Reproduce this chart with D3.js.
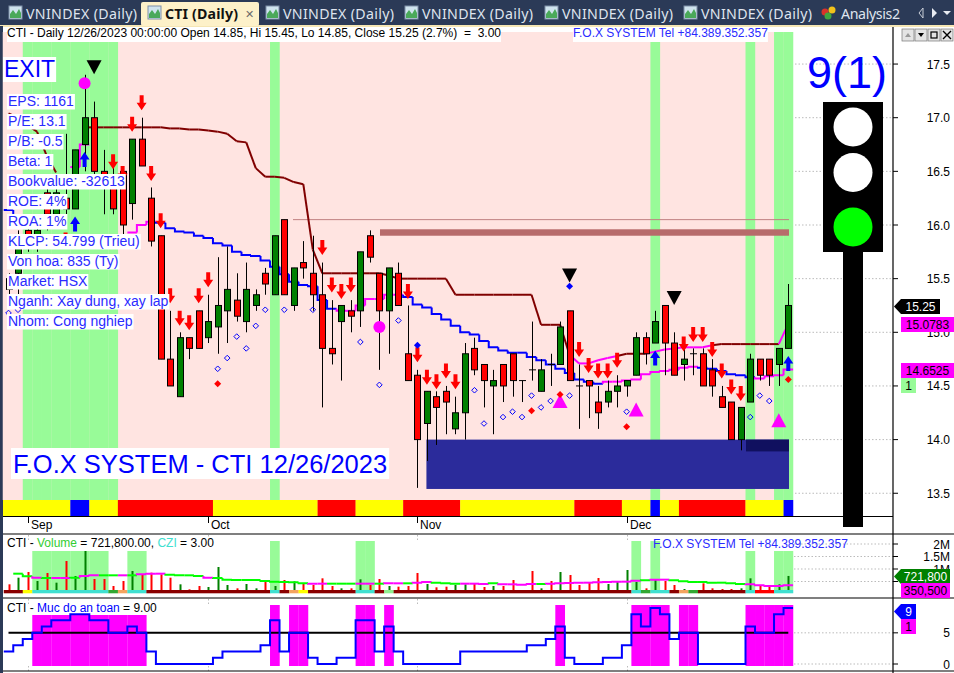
<!DOCTYPE html>
<html><head><meta charset="utf-8">
<style>html,body{margin:0;padding:0;background:#fff;overflow:hidden}svg{display:block;font-family:"Liberation Sans",Arial,sans-serif}text{white-space:pre}</style>
<script src="https://cdn.jsdelivr.net/npm/d3@7"></script>
</head><body><div id="c"></div>
<script>
// ---------- data: one entry per daily bar (83 bars) ----------
const opens=[15.5,15.55,15.95,15.8,16.3,16.1,16.25,16.15,16.75,17.0,16.5,16.4,16.5,16.2,16.8,16.25,15.9,14.75,14.4,14.95,15.2,14.95,15.05,15.2,15.3,15.1,15.25,15.55,15.35,16.05,15.25,15.65,15.55,15.35,14.85,15.1,15.2,15.2,15.9,15.55,15.2,15.55,14.8,14.6,14.15,14.4,14.45,14.1,14.25,14.85,14.7,14.5,14.7,14.8,14.55,14.65,14.45,14.7,14.7,15.2,14.5,14.55,14.35,14.35,14.45,14.5,14.6,14.95,14.9,15.25,14.9,14.7,14.8,14.8,14.65,14.4,14.35,14.0,14.35,14.75,14.75,14.7,14.85];
const highs=[15.55,15.95,16.0,16.05,16.45,16.4,16.85,16.7,17.4,17.15,16.7,16.6,16.5,16.8,17.0,16.35,15.9,15.2,15.0,14.95,15.2,15.35,15.7,15.8,15.55,15.65,15.4,15.6,15.9,16.05,15.6,15.85,15.9,15.65,15.3,15.25,15.3,15.75,15.95,15.55,15.6,15.65,15.25,14.65,14.45,14.45,14.5,14.4,14.9,14.95,14.7,14.65,14.7,14.8,14.55,15.1,14.75,14.8,15.1,15.2,14.7,14.55,14.5,14.55,14.6,14.55,15.0,15.0,15.2,15.25,15.0,14.85,14.85,14.85,14.75,14.5,14.35,14.3,14.8,14.75,14.75,14.85,15.45];
const lows=[15.3,15.25,15.75,15.75,15.95,16.0,16.1,16.15,16.5,16.35,16.1,16.1,15.9,16.05,16.55,15.8,14.75,14.5,14.4,14.75,14.85,14.9,14.8,14.9,15.1,15.0,15.2,15.35,15.35,15.35,15.2,15.5,15.2,14.3,14.7,14.55,15.0,15.05,15.65,14.65,14.8,15.25,14.55,13.55,13.8,13.95,14.05,14.05,14.0,14.6,14.3,14.05,14.35,14.4,14.35,14.55,14.45,14.5,14.7,14.55,14.1,14.2,14.1,14.3,14.3,14.4,14.6,14.7,14.9,14.6,14.6,14.55,14.6,14.5,14.4,14.3,14.0,13.9,14.35,14.55,14.5,14.5,14.85];
const closes=[15.4,15.9,15.8,15.95,16.1,16.3,16.15,16.7,17.0,16.5,16.35,16.15,16.0,16.8,16.55,15.85,14.75,14.5,14.95,14.85,14.85,15.1,15.25,15.4,15.15,15.4,15.35,15.45,15.9,15.35,15.6,15.6,15.35,14.85,14.8,15.25,15.15,15.75,15.7,15.2,15.6,15.25,14.55,14.0,14.45,14.3,14.35,14.25,14.8,14.65,14.55,14.55,14.5,14.55,14.55,14.65,14.65,14.7,15.05,14.55,14.5,14.5,14.25,14.45,14.5,14.55,14.95,14.8,15.1,14.9,14.6,14.75,14.8,14.5,14.5,14.3,14.0,14.3,14.75,14.6,14.6,14.85,15.25];
const volumes=[387,653,880,520,840,453,1320,720,1720,600,600,320,520,920,760,853,787,653,387,187,320,280,1080,360,227,400,227,493,320,560,507,427,360,627,320,227,227,587,360,600,320,293,320,840,400,267,293,360,387,400,280,320,320,560,160,920,227,520,880,760,360,480,640,400,520,960,480,227,587,520,360,200,120,427,227,200,200,227,627,360,280,387,721.8];
const volumeMA=[813,813,707,653,640,640,640,653,720,747,747,747,747,747,787,813,813,773,747,747,720,653,640,573,560,560,560,520,493,480,467,427,413,413,413,413,413,413,413,413,427,427,427,453,480,453,427,413,413,413,400,427,387,387,373,400,400,413,427,440,453,453,467,480,493,493,533,547,573,573,547,507,480,480,453,453,427,400,387,347,320,320,350.5];
const volumeMAMagenta=[3,5,6,8,9,12,14,15,16,21,32,33,37,38,40,41,43,44,48,49,50,52,53,54,55,57,58,59,60,61,62,63,64,65,66,68,69,78,79,80,81,82];
const safety=[2,3,4,5,6,7,7,8,8,7,7,5,5,6,5,2,0,0,0,0,0,0,1,2,2,2,2,3,7,2,5,5,1,0,0,1,1,7,7,2,6,2,0,0,0,0,0,0,2,2,2,2,2,2,2,3,3,4,6,1,0,0,0,1,1,3,8,6,9,8,4,5,5,0,0,0,0,0,6,5,5,8,9];
const upperStop=[17.04,17.0,16.93,16.87,16.65,16.49,null,null,16.91,16.91,16.91,16.91,16.91,16.91,16.91,16.91,16.91,16.90,16.90,16.89,16.89,16.88,16.87,16.85,16.78,16.77,16.53,16.45,16.45,16.44,16.40,16.38,15.77,15.55,15.55,15.55,15.55,15.55,15.55,15.55,15.53,15.50,15.50,15.50,15.50,15.50,15.50,15.35,15.35,15.35,15.35,15.35,15.35,15.35,15.35,15.35,15.07,15.07,15.07,14.79,14.71,14.71,14.74,14.76,14.78,14.80,14.80,14.80,14.82,14.84,14.85,14.86,14.86,14.86,14.88,14.89,14.89,14.89,14.89,14.89,14.89,14.89,15.0783];
const upperMagenta=[60,61,62,63,64,68,69,70,71,72,73,74,82];
const lowerStop=[16.14,16.05,null,null,null,null,null,16.54,16.75,null,null,null,null,15.93,16.0,16.03,16.02,15.97,15.94,15.93,15.90,15.88,15.83,15.81,15.75,15.72,15.71,15.67,15.61,15.54,15.47,15.44,15.43,15.30,15.22,15.20,15.20,15.25,15.31,15.31,15.35,15.35,15.33,15.26,15.23,15.17,15.12,15.06,15.00,14.98,14.92,14.86,14.83,14.81,14.81,14.77,14.74,14.70,14.66,14.62,14.56,14.54,14.52,14.54,14.54,14.55,14.56,14.61,14.63,14.64,14.65,14.67,14.68,14.67,14.66,14.64,14.61,14.60,14.58,14.57,14.59,14.60,14.6525];
const lowerBlue=[0,1,16,17,18,19,20,21,22,23,24,25,26,27,28,29,30,31,32,33,34,42,43,44,45,46,47,48,49,50,51,52,53,54,55,56,57,58,59,60,61,62,73,74,75,76,77,78];
const bandsMain=[2,3,4,5,6,7,8,9,10,11,28,68,78,81,82];
const bandsVolTall=[28,37,38,66,68];
const bandsVolShort=[3,4,5,6,7,8,9,10,13,14,78,81,82];
const stripRuns=[["#ffff00",0,6],["#0000ff",7,8],["#ffff00",9,11],["#ff0000",12,21],["#ffff00",22,32],["#ff0000",33,36],["#ffff00",37,41],["#ff0000",42,47],["#ffff00",48,59],["#ff0000",60,64],["#ffff00",65,67],["#0000ff",68,68],["#ffff00",69,70],["#ff0000",71,77],["#ffff00",78,81],["#0000ff",82,82]];
const volStripRuns=[["#8b0000",0,1],["#ffff00",2,2],["#40e0d0",3,10],["#32a832",11,11],["#f4a460",12,12],["#40e0d0",13,14],["#8b0000",15,27],["#40e0d0",28,28],["#8b0000",29,29],["#f4a460",30,30],["#ffff00",31,31],["#8b0000",32,36],["#40e0d0",37,38],["#8b0000",39,39],["#90ee90",40,40],["#8b0000",41,65],["#40e0d0",66,66],["#32a832",67,67],["#40e0d0",68,69],["#8b0000",70,70],["#f4a460",71,71],["#32a832",72,72],["#8b0000",73,77],["#40e0d0",78,78],["#ff0000",79,80],["#40e0d0",81,82]];
const sellArrows=[[6,15.86],[11,16.59],[12,16.48],[13,16.94],[14,17.14],[15,16.48],[16,16.04],[17,15.34],[18,15.13],[19,15.09],[20,15.34],[21,15.49],[33,15.79],[34,15.44],[35,15.38],[36,15.44],[42,15.38],[43,14.79],[44,14.58],[45,14.54],[46,14.64],[47,14.54],[60,14.84],[61,14.69],[62,14.64],[63,14.64],[64,14.74],[71,14.89],[72,14.98],[73,14.98],[74,14.84],[75,14.64],[76,14.49],[77,14.43]];
const buyArrows=[[7,16.01],[8,16.61],[68,14.76],[82,14.71]];
const blackTriangles=[[9,17.47],[59,15.53],[70,15.32]];
const magentaTriangles=[[58,14.36],[66,14.28],[81,14.18]];
const magentaDots=[[8,17.32],[39,15.05]];
const hollowDiamonds=[[0,15.18],[1,15.21],[22,14.66],[23,14.76],[24,14.96],[25,14.85],[26,15.06],[27,15.21],[29,15.21],[32,15.21],[37,14.91],[39,14.51],[41,15.11],[49,14.46],[50,14.15],[52,14.21],[53,14.26],[54,14.21],[55,14.41],[56,14.30],[57,14.36],[59,14.41],[65,14.26],[78,14.21],[79,14.41],[80,14.36]];
const redDiamonds=[[22,14.52],[55,14.27],[58,14.42],[65,14.12],[82,14.56]];
const blueDiamonds=[[43,14.88],[59,15.43]];
const priceTicks=[13.5,14,14.5,15,15.5,16,16.5,17,17.5];
const monthTicks=[["Sep",2],["Oct",21],["Nov",43],["Dec",65]];
const volTicks=[[500,null],[1000,"1M"],[1500,"1.5M"],[2000,"2M"]];
const safetyTicks=[0,5];
const resistanceLine=16.05, resistanceZone=[15.9,15.96], supportZone=[13.54,14.0], innerSupportZone=[13.89,14.0];
const infoLabels=["EPS: 1161","P/E: 13.1","P/B: -0.5","Beta: 1","Bookvalue: -32613","ROE: 4%","ROA: 1%","KLCP: 54.799 (Trieu)","Von hoa: 835 (Ty)","Market: HSX","Nganh: Xay dung, xay lap","Nhom: Cong nghiep"];
const tabs=[["VNINDEX (Daily)",26],["VNINDEX (Daily)",283],["VNINDEX (Daily)",422],["VNINDEX (Daily)",562],["VNINDEX (Daily)",701]];

// ---------- scales ----------
const W=954,H=673,N=opens.length;
const x=d3.scaleLinear().domain([0,N-1]).range([8.5,788.3]);
const step=x(1)-x(0);
const y=d3.scaleLinear().domain([16,13.5]).range([225,493.25]);
const yV=d3.scaleLinear().domain([0,2000]).range([594,544]);
const yS=d3.scaleLinear().domain([0,9]).range([664,607.9]);
const L=k=>x(k)-step/2, R=k=>x(k)+step/2;

const svg=d3.select("#c").append("svg").attr("width",W).attr("height",H);
const rect=(g,a,b,w,h,f)=>g.append("rect").attr("x",a).attr("y",b).attr("width",w).attr("height",h).attr("fill",f);
const txt=(g,s,a,b,size,f,anchor)=>g.append("text").text(s).attr("x",a).attr("y",b).attr("font-size",size).attr("fill",f).attr("text-anchor",anchor||"start");
const labelBg=(g,s,a,b,size,f,px,top,h)=>{const gg=g.append("g");const r=rect(gg,a-px,top,10,h,"#fff");const t=txt(gg,s,a,b,size,f);r.attr("width",t.node().getComputedTextLength()+2*px);return t;};

// ---------- window chrome ----------
rect(svg,0,0,W,26,"#2b3a57");
rect(svg,0,25,W,2,"#f5e6b4");
rect(svg,0,26,3,H-26,"#2b3a57");
const tabIcon=(a)=>{rect(svg,a,6,13,13,"#cfe3ee").attr("stroke","#7f8fa8").attr("stroke-width",1);
  svg.append("path").attr("d",`M${a+1},18 L${a+1},14 L${a+4},10 L${a+7},14 L${a+10},9 L${a+12},13 L${a+12},18Z`).attr("fill","#4aa95a");};
tabs.forEach(([s,a])=>{tabIcon(a-17);
  txt(svg,s,a,19,14.2,"#dfe4ee").attr("textLength",111).attr("font-family","Noto Sans");});
rect(svg,141,2,118,24,"#fdf1c9").attr("rx",2);
tabIcon(148);
txt(svg,"CTI (Daily)",165,19,14.2,"#111").attr("font-weight","bold").attr("font-family","Noto Sans").attr("textLength",73);
txt(svg,"\u2715",245,18,11,"#6b6b6b");
[["#d8332a",825,9],["#f2c21a",832,7],["#3fa63f",828,13]].forEach(d=>svg.append("circle").attr("cx",d[1]).attr("cy",d[2]+3).attr("r",3.5).attr("fill",d[0]));
txt(svg,"Analysis2",841,19,14.2,"#dfe4ee").attr("font-family","Noto Sans").attr("textLength",59);
svg.append("path").attr("d","M923,8 L919,13 L923,18Z").attr("fill","none").attr("stroke","#c9ced8");
svg.append("path").attr("d","M932,8 L937,13 L932,18Z").attr("fill","#e8ebf2");
svg.append("path").attr("d","M943,11 H951 L947,15Z").attr("fill","#e8ebf2");

// ---------- main pane ----------
const main=svg.append("g");
rect(main,x(0)-step/2-1,32,R(N-1)-L(0)+1,468,"#ffe4e1");
bandsMain.forEach(k=>rect(main,L(k),32,step+.2,468,"#98fb98"));
stripRuns.forEach(([c,a,b])=>rect(main,a===0?3:L(a),500,R(b)-(a===0?3:L(a))+.2,16.5,c));
// price grid
priceTicks.forEach(p=>main.append("line").attr("x1",795).attr("x2",893).attr("y1",y(p)).attr("y2",y(p)).attr("stroke","#bbb").attr("stroke-dasharray","1.5,2"));
// zones
const zx0=x(44)-.5, zx1=x(82)+.7;
rect(main,zx0,y(supportZone[1]),zx1-zx0,y(supportZone[0])-y(supportZone[1]),"#2b2b9b");
rect(main,L(78)+.5,y(innerSupportZone[1]),zx1-L(78)-.5,y(innerSupportZone[0])-y(innerSupportZone[1]),"#10105f");
rect(main,380,y(resistanceZone[1]),zx1-380,y(resistanceZone[0])-y(resistanceZone[1]),"#b76b6b");
main.append("line").attr("x1",293).attr("x2",zx1).attr("y1",y(resistanceLine)).attr("y2",y(resistanceLine)).attr("stroke","#c08080").attr("stroke-width",1);

// stop lines (drawn behind the candles)
const upLine=d3.line().x(d=>d[0]).y(d=>y(d[1]));
for(let k=1;k<N;k++){ if(upperStop[k]==null||upperStop[k-1]==null) continue;
  main.append("path").attr("d",upLine([[x(k-1),upperStop[k-1]],[x(k),upperStop[k]]])).attr("fill","none")
    .attr("stroke",upperMagenta.includes(k)?"#ff00ff":"#800000").attr("stroke-width",2);}
for(let k=0;k<N;k++){ if(lowerStop[k]==null) continue;
  const prev=k>0&&lowerStop[k-1]!=null?lowerStop[k-1]:lowerStop[k];
  main.append("path").attr("d",`M${L(k)},${y(prev)}V${y(lowerStop[k])}H${R(k)}`).attr("fill","none")
    .attr("stroke",lowerBlue.includes(k)?"#0000ff":"#ff00ff").attr("stroke-width",2);}

// candles
const candleW=6;
d3.range(N).forEach(k=>{
  const o=opens[k],c=closes[k];
  const X=Math.round(x(k))+.5;
  main.append("line").attr("x1",X).attr("x2",X).attr("y1",y(highs[k])).attr("y2",y(lows[k])).attr("stroke","#000").attr("stroke-width",1);
  if(o===c){main.append("line").attr("x1",X-3.5).attr("x2",X+3.5).attr("y1",y(o)).attr("y2",y(o)).attr("stroke","#000");}
  else{ const t=y(Math.max(o,c)),b=y(Math.min(o,c));
    rect(main,X-candleW/2,t,candleW,b-t,c>o?"#008000":"#ff0000").attr("stroke","#000").attr("stroke-width",1);}
});

// markers
const sym=(list,d,fill,stroke)=>list.forEach(([k,p])=>main.append("path").attr("d",d).attr("transform",`translate(${x(k)},${y(p)})`).attr("fill",fill).attr("stroke",stroke||"none"));
sym(sellArrows,"M-2,-7.5H2V0H5L0,7.5L-5,0H-2Z","#ff0000");
sym(buyArrows,"M-2,7.5H2V0H5L0,-7.5L-5,0H-2Z","#0000ff");
sym(blackTriangles,"M-7.5,-7L7.5,-7L0,7Z","#000");
sym(magentaTriangles,"M-7.5,7L7.5,7L0,-7Z","#ff00ff");
magentaDots.forEach(([k,p])=>main.append("circle").attr("cx",x(k)).attr("cy",y(p)).attr("r",6).attr("fill","#ff00ff"));
sym(hollowDiamonds,"M0,-2.8L2.8,0L0,2.8L-2.8,0Z","none","#0000ff");
sym(redDiamonds,"M0,-3.5L3.5,0L0,3.5L-3.5,0Z","#ff0000");
sym(blueDiamonds,"M0,-3.5L3.5,0L0,3.5L-3.5,0Z","#0000ff");

// text overlays
const blue="#2a2aff";
labelBg(main,"CTI - Daily 12/26/2023 00:00:00 Open 14.85, Hi 15.45, Lo 14.85, Close 15.25 (2.7%)  =  3.00",7,37,12,"#000",0,27,15);
labelBg(main,"F.O.X SYSTEM Tel +84.389.352.357",573,37,12,blue,0,27,15);
labelBg(main,"EXIT",4,77,23,"#0000ff",1,57,25);
infoLabels.forEach((s,i)=>labelBg(main,s,8,106+i*20,14,blue,1,94+i*20,15.5));
labelBg(main,"F.O.X SYSTEM - CTI 12/26/2023",13,473,25.5,"#0000ff",2,448,31);

// traffic light
txt(svg,"9(1)",847,88,45,"#0000ff","middle");
rect(svg,823,102,60,150,"#000");
rect(svg,843,252,20,275,"#000");
[[127,"#fff"],[172.5,"#fff"],[227,"#00ff00"]].forEach(([cy,f])=>svg.append("circle").attr("cx",853).attr("cy",cy).attr("r",19.5).attr("fill",f));

// date axis and pane separators
const sep=svg.append("g");
monthTicks.forEach(([s,k])=>{const X=Math.round(x(k));
  sep.append("line").attr("x1",X+.5).attr("x2",X+.5).attr("y1",517).attr("y2",523).attr("stroke","#000");
  txt(sep,s,X+3,529,12,"#000");
  [[535,540],[599,605],[666,671]].forEach(([a,b])=>sep.append("line").attr("x1",X+.5).attr("x2",X+.5).attr("y1",a).attr("y2",b).attr("stroke","#bbb").attr("stroke-dasharray","1.5,2"));});
[[516.5,3,893],[534,3,954],[598,3,954],[671,3,954]].forEach(([Y,a,b])=>sep.append("line").attr("x1",a).attr("x2",b).attr("y1",Y).attr("y2",Y).attr("stroke","#000").attr("stroke-width",1.2));

// ---------- volume pane ----------
const vol=svg.append("g");
bandsVolTall.forEach(k=>rect(vol,L(k),541,step+.2,49,"#98fb98"));
bandsVolShort.forEach(k=>rect(vol,L(k),551,step+.2,39,"#98fb98"));
volTicks.forEach(([v])=>vol.append("line").attr("x1",794).attr("x2",893).attr("y1",yV(v)).attr("y2",yV(v)).attr("stroke","#bbb").attr("stroke-dasharray","1.5,2"));
d3.range(N).forEach(k=>{const X=Math.round(x(k));
  rect(vol,X-.5,yV(volumes[k]),2,590-yV(volumes[k]),closes[k]>opens[k]?"#008000":"#ff0000");});
for(let k=1;k<N;k++){
  vol.append("path").attr("d",`M${L(k)},${yV(volumeMA[k-1])}V${yV(volumeMA[k])}H${R(k)}`).attr("fill","none").attr("stroke",volumeMAMagenta.includes(k)?"#ff00ff":"#00ff00").attr("stroke-width",2);}
volStripRuns.forEach(([c,a,b])=>rect(vol,L(a),590,R(b)-L(a)+.2,3.3,c));
const vt=txt(vol,"",7,547,12,"#000");
[["CTI - ","#000"],["Volume","#32cd32"],[" = 721,800.00, ","#000"],["CZI","#40e0d0"],[" = 3.00","#000"]].forEach(([s,f])=>vt.append("tspan").text(s).attr("fill",f));
txt(vol,"F.O.X SYSTEM Tel +84.389.352.357",653,548,12,blue);

// ---------- safety pane ----------
const saf=svg.append("g");
d3.range(N).filter(k=>safety[k]>=5).forEach(k=>{const top=k<15?615:605;rect(saf,L(k),top,step+.2,666-top,"#ff00ff");});
safetyTicks.forEach(v=>saf.append("line").attr("x1",794).attr("x2",893).attr("y1",yS(v)).attr("y2",yS(v)).attr("stroke","#bbb").attr("stroke-dasharray","1.5,2"));
saf.append("line").attr("x1",x(0)).attr("x2",x(N-1)).attr("y1",yS(5)).attr("y2",yS(5)).attr("stroke","#000").attr("stroke-width",2);
saf.append("path").attr("d",d3.line().x(d=>d[0]).y(d=>yS(d[1])).curve(d3.curveLinear)(d3.range(N).flatMap(k=>[[L(k),safety[k]],[R(k),safety[k]]]))).attr("fill","none").attr("stroke","#0000ff").attr("stroke-width",2);
const st=txt(saf,"",7,612,12,"#000");
[["CTI - ","#000"],["Muc do an toan","#0000ff"],[" = 9.00","#000"]].forEach(([s,f])=>st.append("tspan").text(s).attr("fill",f));

// ---------- right axis ----------
const ax=svg.append("g");
ax.append("line").attr("x1",893).attr("x2",893).attr("y1",27).attr("y2",H).attr("stroke","#000").attr("stroke-width",1.2);
priceTicks.forEach(p=>{ax.append("line").attr("x1",893).attr("x2",898).attr("y1",y(p)).attr("y2",y(p)).attr("stroke","#000");
  txt(ax,p.toFixed(1),950,y(p)+4.5,12,"#000","end");});
volTicks.forEach(([v,s])=>{ax.append("line").attr("x1",893).attr("x2",898).attr("y1",yV(v)).attr("y2",yV(v)).attr("stroke","#000");
  if(s)txt(ax,s,950,yV(v)+4.5,12,"#000","end");});
safetyTicks.forEach(v=>{ax.append("line").attr("x1",893).attr("x2",898).attr("y1",yS(v)).attr("y2",yS(v)).attr("stroke","#000");
  txt(ax,String(v),950,yS(v)+4.5,12,"#000","end");});
const tag=(s,top,f,tf,a,b)=>{ // point-left flag when a<901
  const d=a<900?`M${a},${top+7.5}L${a+7},${top}H${b}V${top+15}H${a+7}Z`:`M${a},${top}H${b}V${top+15}H${a}Z`;
  ax.append("path").attr("d",d).attr("fill",f);
  txt(ax,s,(a<900?a+7:a)+ (b-(a<900?a+7:a))/2,top+12,12,tf,"middle");};
tag("15.25",y(closes[N-1])-6.5,"#000","#fff",894,940);
tag("15.0783",317,"#ff00ff","#000",901,954);
tag("14.6525",363,"#ff00ff","#000",901,954);
tag("1",378,"#98fb98","#000",901,916);
tag("721,800",569,"#008000","#fff",894,950);
tag("350,500",583,"#ff00ff","#000",901,950);
tag("9",604,"#0000ff","#fff",894,916);
tag("1",619,"#ff00ff","#000",901,916);
// pane buttons
[902,915,928,941].forEach((a,i)=>{rect(ax,a,29,12,12,"#e4e4e4").attr("stroke","#777").attr("stroke-width",.7);});
ax.append("path").attr("d","M905,37H911L908,33Z").attr("fill","#999");
ax.append("path").attr("d","M918,33H924L921,37Z").attr("fill","#000");
rect(ax,931,32,6,6,"none").attr("stroke","#000").attr("stroke-width",1.2);
ax.append("path").attr("d","M943,31L951,39M951,31L943,39").attr("stroke","#000").attr("stroke-width",1.4);
</script></body></html>
